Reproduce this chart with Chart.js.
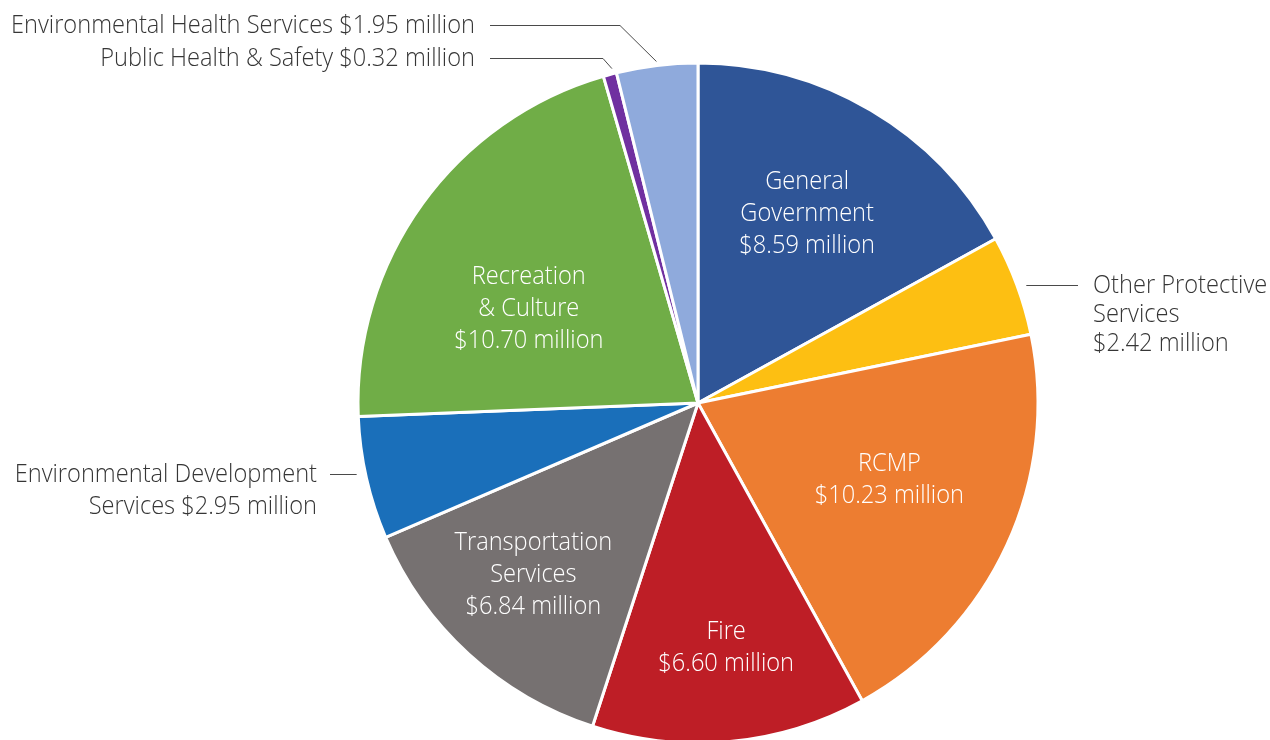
<!DOCTYPE html>
<html>
<head>
<meta charset="utf-8">
<script src="https://cdn.jsdelivr.net/npm/chart.js@4.4.1/dist/chart.umd.min.js"></script>
<style>
  html, body { margin: 0; padding: 0; background: #ffffff; overflow: hidden; }
  #wrap { width: 1270px; height: 760px; position: relative; }
</style>
</head>
<body>
<div id="wrap"><canvas id="pie" width="1270" height="760"></canvas></div>
<script>
// Operating expenditures by function ($ millions), clockwise from 12 o'clock
const categories = [
  'General Government',
  'Other Protective Services',
  'RCMP',
  'Fire',
  'Transportation Services',
  'Environmental Development Services',
  'Recreation & Culture',
  'Public Health & Safety',
  'Environmental Health Services'
];
const values = [8.59, 2.42, 10.23, 6.60, 6.84, 2.95, 10.70, 0.32, 1.95];
const colors = ['#2F5597', '#FDBF12', '#ED7D31', '#BE1E26', '#767171', '#1A6FBA', '#70AD47', '#7030A0', '#8FAADC'];

const fmt = v => '$' + v.toFixed(2) + ' million';

// Inside-slice labels: line breaks per slice plus polar placement (deg from top, px from centre)
const insideLabels = {
  0: { lines: ['General', 'Government'], angle: 29.9, dist: 219 },
  2: { lines: ['RCMP'], angle: 111.7, dist: 206 },
  3: { lines: ['Fire'], angle: 173.4, dist: 245 },
  4: { lines: ['Transportation', 'Services'], angle: 224, dist: 237 },
  6: { lines: ['Recreation', '& Culture'], angle: 299.3, dist: 194 }
};

const FONT = '300 25px "Open Sans", "Noto Sans", sans-serif';
const SQUEEZE = 0.945;
const LINE_H = 32;

function squeezedText(ctx, t, x, y) {
  const w = ctx.measureText(t).width;
  ctx.fillText(t, x, y, w * SQUEEZE);
}

const labelPlugin = {
  id: 'sliceLabels',
  afterDatasetsDraw(chart) {
    const ctx = chart.ctx;
    const meta = chart.getDatasetMeta(0);
    const first = meta.data[0].getProps(['x', 'y', 'outerRadius'], true);
    const cx = first.x, cy = first.y, R = first.outerRadius;
    const edge = (i, extra) => {
      const a = meta.data[i].getProps(['startAngle', 'endAngle'], true);
      const m = (a.startAngle + a.endAngle) / 2;
      return { x: cx + (R + extra) * Math.cos(m), y: cy + (R + extra) * Math.sin(m) };
    };

    ctx.save();
    ctx.font = FONT;
    ctx.textBaseline = 'middle';

    // labels inside slices
    ctx.fillStyle = '#ffffff';
    ctx.textAlign = 'center';
    Object.keys(insideLabels).forEach(k => {
      const i = +k;
      const L = insideLabels[k];
      const lines = L.lines.concat([fmt(values[i])]);
      const a = (L.angle - 90) * Math.PI / 180;
      const lx = cx + L.dist * Math.cos(a);
      const ly = cy + L.dist * Math.sin(a) + 1;
      const top = ly - (lines.length - 1) * LINE_H / 2;
      lines.forEach((t, j) => squeezedText(ctx, t, lx, top + j * LINE_H));
    });

    // callout labels outside the pie
    ctx.fillStyle = '#363636';
    ctx.strokeStyle = '#4a4a4a';
    ctx.lineWidth = 1;

    // Environmental Health Services
    let p = edge(8, 4);
    ctx.beginPath();
    ctx.moveTo(490, 25.5); ctx.lineTo(620, 25.5); ctx.lineTo(p.x, p.y); ctx.stroke();
    ctx.textAlign = 'right';
    squeezedText(ctx, categories[8] + ' ' + fmt(values[8]), 475, 26);

    // Public Health & Safety
    p = edge(7, 0);
    ctx.beginPath();
    ctx.moveTo(490, 58.5); ctx.lineTo(603, 58.5); ctx.lineTo(p.x + 2, p.y - 6); ctx.stroke();
    squeezedText(ctx, categories[7] + ' ' + fmt(values[7]), 475, 59);

    // Other Protective Services
    p = edge(1, 10);
    ctx.beginPath();
    ctx.moveTo(p.x, 285.5); ctx.lineTo(1078, 285.5); ctx.stroke();
    ctx.textAlign = 'left';
    ['Other Protective', 'Services', fmt(values[1])].forEach((t, j) => squeezedText(ctx, t, 1093, 286 + j * 29));

    // Environmental Development Services
    p = edge(5, 10);
    ctx.beginPath();
    ctx.moveTo(330, 474.5); ctx.lineTo(p.x, 474.5); ctx.stroke();
    ctx.textAlign = 'right';
    ['Environmental Development', 'Services ' + fmt(values[5])].forEach((t, j) => squeezedText(ctx, t, 317, 475 + j * 32));

    ctx.restore();
  }
};

new Chart(document.getElementById('pie'), {
  type: 'pie',
  data: {
    labels: categories,
    datasets: [{
      data: values,
      backgroundColor: colors,
      borderColor: '#ffffff',
      borderWidth: 3
    }]
  },
  options: {
    responsive: false,
    animation: false,
    radius: 340,
    layout: { padding: { left: 358, right: 232, top: 63, bottom: 17 } },
    plugins: {
      legend: { display: false },
      tooltip: { enabled: false }
    }
  },
  plugins: [labelPlugin]
});
</script>
</body>
</html>
